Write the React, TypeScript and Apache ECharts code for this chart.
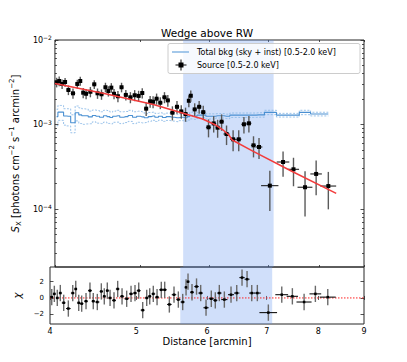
import React, { useEffect, useRef } from 'react';
import * as echarts from 'echarts';

// ---------- data ----------
const srcDist = [
  4.018, 4.045, 4.076, 4.108, 4.144, 4.194, 4.242, 4.275, 4.308, 4.341,
  4.390, 4.435, 4.473, 4.520, 4.567, 4.602, 4.638, 4.671, 4.719, 4.764,
  4.818, 4.876, 4.931, 4.982, 5.030, 5.082, 5.135, 5.175, 5.223, 5.274,
  5.332, 5.379, 5.444, 5.510, 5.572, 5.635, 5.684, 5.713, 5.772, 5.840,
  5.903, 5.985, 6.067, 6.130, 6.194, 6.275, 6.384, 6.479, 6.568, 6.654,
  6.735, 6.833, 7.030, 7.278, 7.480, 7.710, 7.938, 8.196,
];
const srcSx = [
  3.16e-3, 3.27e-3, 3.02e-3, 3.18e-3, 2.56e-3, 2.34e-3, 3.02e-3, 3.27e-3, 2.38e-3, 2.31e-3,
  2.44e-3, 2.99e-3, 2.34e-3, 2.28e-3, 2.76e-3, 2.49e-3, 2.73e-3, 2.31e-3, 2.16e-3, 2.76e-3,
  2.24e-3, 2.10e-3, 2.22e-3, 2.18e-3, 2.36e-3, 1.54e-3, 1.88e-3, 1.86e-3, 2.02e-3, 1.81e-3,
  2.10e-3, 1.93e-3, 1.38e-3, 1.62e-3, 1.43e-3, 1.33e-3, 1.91e-3, 2.19e-3, 1.51e-3, 1.62e-3,
  1.40e-3, 9.27e-4, 1.03e-3, 9.17e-4, 1.08e-3, 7.72e-4, 6.68e-4, 6.68e-4, 1.006e-3, 1.033e-3,
  5.67e-4, 5.42e-4, 1.89e-4, 3.60e-4, 2.95e-4, 1.81e-4, 2.60e-4, 1.87e-4,
];
const srcRelErr = [
  0.13, 0.13, 0.13, 0.12, 0.13, 0.14, 0.12, 0.12, 0.14, 0.14,
  0.14, 0.12, 0.14, 0.14, 0.13, 0.14, 0.13, 0.14, 0.15, 0.13,
  0.14, 0.15, 0.15, 0.15, 0.14, 0.18, 0.16, 0.16, 0.15, 0.16,
  0.15, 0.16, 0.19, 0.17, 0.18, 0.19, 0.16, 0.15, 0.18, 0.17,
  0.19, 0.24, 0.22, 0.24, 0.22, 0.26, 0.28, 0.28, 0.22, 0.22,
  0.28, 0.28, 0.50, 0.33, 0.37, 0.55, 0.44, 0.47,
];
const srcXErr = [
  0.013, 0.015, 0.016, 0.016, 0.020, 0.025, 0.020, 0.016, 0.016, 0.020,
  0.022, 0.022, 0.020, 0.024, 0.020, 0.018, 0.018, 0.020, 0.024, 0.022,
  0.026, 0.028, 0.026, 0.025, 0.025, 0.026, 0.025, 0.022, 0.025, 0.027,
  0.030, 0.030, 0.032, 0.032, 0.030, 0.030, 0.020, 0.020, 0.030, 0.034,
  0.035, 0.040, 0.040, 0.032, 0.035, 0.050, 0.050, 0.045, 0.045, 0.043,
  0.045, 0.060, 0.160, 0.120, 0.110, 0.150, 0.120, 0.170,
];
const chiVals = [
  0.1, 0.5, 0.0, 0.6, -0.6, -1.3, 0.6, 1.1, -0.6, -0.7,
  -0.4, 0.9, -0.4, -0.5, 0.8, 0.2, 0.9, 0.0, -0.3, 1.1,
  0.2, -0.1, 0.5, 0.6, 0.9, -1.5, 0.0, 0.2, 0.5, 0.1,
  1.0, 1.0, -0.8, 0.4, -0.2, -0.5, 1.3, 2.0, 0.7, 1.4,
  0.6, -1.2, -0.1, -0.3, 0.6, -0.2, 0.4, 0.6, 2.5, 2.3,
  0.6, 0.6, -1.8, 0.4, 0.2, -0.5, 0.5, 0.1,
];
const bkgSx = [
  1.24e-3, 1.40e-3, 1.40e-3, 1.26e-3, 1.25e-3, 1.05e-3, 1.38e-3, 1.30e-3, 1.27e-3, 1.27e-3,
  1.23e-3, 1.28e-3, 1.25e-3, 1.22e-3, 1.27e-3, 1.24e-3, 1.21e-3, 1.25e-3, 1.27e-3, 1.22e-3,
  1.24e-3, 1.28e-3, 1.22e-3, 1.25e-3, 1.23e-3, 1.20e-3, 1.24e-3, 1.26e-3, 1.22e-3, 1.25e-3,
  1.21e-3, 1.24e-3, 1.22e-3, 1.20e-3, 1.22e-3, 1.20e-3, 1.24e-3, 1.28e-3, 1.25e-3, 1.29e-3,
  1.29e-3, 1.25e-3, 1.25e-3, 1.27e-3, 1.27e-3, 1.25e-3, 1.29e-3, 1.29e-3, 1.29e-3, 1.29e-3,
  1.29e-3, 1.30e-3, 1.39e-3, 1.29e-3, 1.29e-3, 1.39e-3, 1.33e-3, 1.33e-3,
];
const bkgRelErr = [
  0.22, 0.20, 0.20, 0.22, 0.23, 0.24, 0.20, 0.21, 0.21, 0.20,
  0.17, 0.16, 0.17, 0.16, 0.16, 0.17, 0.16, 0.15, 0.16, 0.16,
  0.15, 0.15, 0.16, 0.15, 0.15, 0.12, 0.12, 0.11, 0.11, 0.10,
  0.10, 0.10, 0.10, 0.10, 0.09, 0.09, 0.09, 0.09, 0.08, 0.08,
  0.07, 0.07, 0.07, 0.06, 0.06, 0.06, 0.06, 0.06, 0.06, 0.06,
  0.06, 0.06, 0.06, 0.05, 0.05, 0.06, 0.05, 0.05,
];
const modelDist = [4.0, 4.552, 5.179, 5.600, 5.893, 6.099, 6.232, 6.313, 6.368, 6.706, 7.436, 8.367];
const modelSx = [3.06e-3, 2.33e-3, 1.725e-3, 1.357e-3, 1.162e-3, 9.86e-4, 8.45e-4, 7.51e-4, 6.56e-4, 4.90e-4, 2.82e-4, 1.53e-4];
const bandRange = [5.6, 7.1];
const xTickValues = [4, 5, 6, 7, 8, 9];
const yMajorTicks = [1e-4, 1e-3, 1e-2];
const chiTicks = [-2, 0, 2];
const xRange = [4, 9];
const yRange = [2.06e-5, 1e-2];
const chiRange = [-3.2, 3.8];

const titleText = 'Wedge above RW';
const xName = 'Distance [arcmin]';
const legendBkg = 'Total bkg (sky + inst) [0.5-2.0 keV]';
const legendSrc = 'Source [0.5-2.0 keV]';

// ---------- helpers ----------
const lg = (v: number) => Math.log10(v);
const FONT = 'DejaVu Sans';
const AX = '#262626';
const BKG = '#4a90d2';
const BKG_D = '#8dbbe8';

const yMinorTicks: number[] = [];
for (let n = -5; n <= -3; n++) {
  for (let k = 2; k <= 9; k++) {
    const v = k * Math.pow(10, n);
    if (v > yRange[0] && v < yRange[1]) yMinorTicks.push(lg(v));
  }
}

function tickAxis(gridIndex: number, position: string, min: number, max: number, ticks: number[], len: number, extra: any = {}) {
  return {
    type: 'value',
    gridIndex,
    position,
    min,
    max,
    axisLine: { show: false },
    splitLine: { show: false },
    axisLabel: { show: false },
    axisTick: {
      show: true,
      inside: true,
      length: len,
      customValues: ticks,
      lineStyle: { color: AX, width: 0.8 },
    },
    ...extra,
  };
}

function errRender(markerSize: number, vColor: string, hColor: string) {
  return (params: any, api: any) => {
    const c = api.coord([api.value(0), api.value(1)]);
    const xl = api.coord([api.value(2), api.value(1)]);
    const xh = api.coord([api.value(3), api.value(1)]);
    const yl = api.coord([api.value(0), api.value(4)]);
    const yh = api.coord([api.value(0), api.value(5)]);
    const h = markerSize / 2;
    return {
      type: 'group',
      children: [
        { type: 'line', shape: { x1: c[0], y1: yl[1], x2: c[0], y2: yh[1] }, style: { stroke: vColor, lineWidth: 1.4 } },
        { type: 'line', shape: { x1: xl[0], y1: c[1], x2: xh[0], y2: c[1] }, style: { stroke: hColor, lineWidth: 1.1 } },
        { type: 'rect', shape: { x: c[0] - h, y: c[1] - h, width: markerSize, height: markerSize }, style: { fill: '#000' } },
      ],
    };
  };
}

export default function App() {
  const ref = useRef<HTMLDivElement>(null);
  useEffect(() => {
    if (!ref.current) return;
    const chart = echarts.init(ref.current, null, { renderer: 'svg' });

    const xMin = lg(xRange[0]);
    const xMax = lg(xRange[1]);
    const yMin = lg(yRange[0]);
    const yMax = lg(yRange[1]);
    const xTicks = xTickValues.map(lg);

    const srcData = srcDist.map((d, i) => {
      const v = srcSx[i];
      const e = v * srcRelErr[i];
      return [lg(d), lg(v), lg(d - srcXErr[i]), lg(d + srcXErr[i]), lg(v - e), lg(v + e)];
    });
    const chiData = srcDist.map((d, i) => [lg(d), chiVals[i], lg(d - srcXErr[i]), lg(d + srcXErr[i]), chiVals[i] - 1, chiVals[i] + 1]);
    const bkgMain = srcDist.map((d, i) => [lg(d), lg(bkgSx[i])]);
    const bkgUp = srcDist.map((d, i) => [lg(d), lg(bkgSx[i] * (1 + bkgRelErr[i]))]);
    const bkgLo = srcDist.map((d, i) => [lg(d), lg(bkgSx[i] * (1 - bkgRelErr[i]))]);
    const modelData = modelDist.map((d, i) => [lg(d), lg(modelSx[i])]);

    const band = {
      silent: true,
      itemStyle: { color: 'rgba(100,149,237,0.3)' },
      data: [[{ xAxis: lg(bandRange[0]) }, { xAxis: lg(bandRange[1]) }]],
    };

    const option: any = {
      animation: false,
      backgroundColor: '#ffffff',
      textStyle: { fontFamily: FONT },
      grid: [
        { left: 50, top: 40, width: 314, height: 227, show: true, borderColor: AX, borderWidth: 1, backgroundColor: 'transparent' },
        { left: 50, top: 267, width: 314, height: 57, show: true, borderColor: AX, borderWidth: 1, backgroundColor: 'transparent' },
      ],
      xAxis: [
        tickAxis(0, 'bottom', xMin, xMax, xTicks, 2),
        tickAxis(0, 'top', xMin, xMax, xTicks, 2),
        tickAxis(1, 'bottom', xMin, xMax, xTicks, 2, {
          name: xName,
          nameLocation: 'middle',
          nameGap: 12,
          nameTextStyle: { fontSize: 10, fontFamily: FONT, color: '#000' },
          axisLabel: {
            show: true,
            customValues: xTicks,
            margin: 3,
            fontSize: 8,
            fontFamily: FONT,
            color: '#000',
            formatter: (v: number) => String(Math.round(Math.pow(10, v))),
          },
        }),
        tickAxis(1, 'top', xMin, xMax, xTicks, 2),
      ],
      yAxis: [
        tickAxis(0, 'left', yMin, yMax, yMajorTicks.map(lg), 3.5, {
          name: '{i|S}{sub|X} [photons cm{sup|−2} s{sup|−1} arcmin{sup|−2}]',
          nameLocation: 'middle',
          nameGap: 26,
          nameTextStyle: {
            fontSize: 10,
            fontFamily: FONT,
            color: '#000',
            rich: {
              i: { fontSize: 10, fontStyle: 'italic', fontFamily: FONT, color: '#000', verticalAlign: 'middle', lineHeight: 14 },
              sub: { fontSize: 7, fontFamily: FONT, color: '#000', verticalAlign: 'bottom', lineHeight: 14 },
              sup: { fontSize: 7, fontFamily: FONT, color: '#000', verticalAlign: 'top', lineHeight: 14 },
            },
          },
          axisLabel: {
            show: true,
            customValues: yMajorTicks.map(lg),
            margin: 3,
            fontSize: 8,
            fontFamily: FONT,
            color: '#000',
            formatter: (v: number) => '10{sup|−' + Math.abs(Math.round(v)) + '}',
            rich: {
              sup: { fontSize: 6, fontFamily: FONT, color: '#000', verticalAlign: 'top', padding: [0, 0, 5, 0] },
            },
          },
        }),
        tickAxis(0, 'left', yMin, yMax, yMinorTicks, 2),
        tickAxis(0, 'right', yMin, yMax, yMajorTicks.map(lg), 3.5),
        tickAxis(0, 'right', yMin, yMax, yMinorTicks, 2),
        tickAxis(1, 'left', chiRange[0], chiRange[1], chiTicks, 3.5, {
          name: 'χ',
          nameLocation: 'middle',
          nameGap: 14,
          nameRotate: 90,
          nameTextStyle: { fontSize: 10, fontStyle: 'italic', fontFamily: FONT, color: '#000' },
          axisLabel: {
            show: true,
            customValues: chiTicks,
            margin: 6,
            fontSize: 7,
            fontFamily: FONT,
            color: '#000',
            formatter: (v: number) => (v < 0 ? '−' + Math.abs(v) : String(v)),
          },
        }),
        tickAxis(1, 'right', chiRange[0], chiRange[1], chiTicks, 3.5),
      ],
      series: [
        {
          type: 'line', xAxisIndex: 0, yAxisIndex: 0, data: [], markArea: band, z: 0,
        },
        {
          type: 'line', xAxisIndex: 2, yAxisIndex: 4, data: [], markArea: band, z: 0,
        },
        {
          name: 'bkg_up', type: 'line', xAxisIndex: 0, yAxisIndex: 0, data: bkgUp, step: 'middle', symbol: 'none',
          lineStyle: { color: BKG_D, width: 0.9, type: [2, 1.5] }, z: 2,
        },
        {
          name: 'bkg_lo', type: 'line', xAxisIndex: 0, yAxisIndex: 0, data: bkgLo, step: 'middle', symbol: 'none',
          lineStyle: { color: BKG_D, width: 0.9, type: [2, 1.5] }, z: 2,
        },
        {
          name: legendBkg, type: 'line', xAxisIndex: 0, yAxisIndex: 0, data: bkgMain, step: 'middle', symbol: 'none',
          lineStyle: { color: BKG, width: 1.1 }, z: 3,
        },
        {
          name: 'model', type: 'line', xAxisIndex: 0, yAxisIndex: 0, data: modelData, symbol: 'none',
          lineStyle: { color: '#f23c3c', width: 1.5 }, z: 5,
        },
        {
          name: legendSrc, type: 'custom', xAxisIndex: 0, yAxisIndex: 0, data: srcData,
          encode: { x: 0, y: 1 }, renderItem: errRender(4, '#5a5a5a', '#222'), z: 4,
        },
        {
          name: 'zero', type: 'line', xAxisIndex: 2, yAxisIndex: 4, data: [[xMin, 0], [xMax, 0]], symbol: 'none',
          lineStyle: { color: '#ff2020', width: 1, type: [1.5, 1.5] }, z: 2,
        },
        {
          name: 'chi', type: 'custom', xAxisIndex: 2, yAxisIndex: 4, data: chiData,
          encode: { x: 0, y: 1 }, renderItem: errRender(2.5, '#6a6a6a', '#111'), z: 4,
        },
      ],
      graphic: [
        {
          type: 'text', x: 207, y: 33, z: 10,
          style: { text: titleText, fontSize: 10.5, fontFamily: FONT, fill: '#000', align: 'center', verticalAlign: 'middle' },
        },
        {
          type: 'rect', z: 10, shape: { x: 168, y: 43.5, width: 192, height: 30, r: 2 },
          style: { fill: 'rgba(255,255,255,0.8)', stroke: '#cccccc', lineWidth: 1 },
        },
        {
          type: 'line', z: 11, shape: { x1: 172, y1: 52, x2: 189, y2: 52 },
          style: { stroke: '#86b6e3', lineWidth: 1.5 },
        },
        {
          type: 'text', z: 11, x: 197, y: 52,
          style: { text: legendBkg, fontSize: 8, fontFamily: FONT, fill: '#000', align: 'left', verticalAlign: 'middle' },
        },
        {
          type: 'line', z: 11, shape: { x1: 181, y1: 59.5, x2: 181, y2: 70.5 },
          style: { stroke: '#333', lineWidth: 1.2 },
        },
        {
          type: 'line', z: 11, shape: { x1: 175.5, y1: 65, x2: 186.5, y2: 65 },
          style: { stroke: '#333', lineWidth: 1.2 },
        },
        {
          type: 'rect', z: 12, shape: { x: 178.5, y: 62.5, width: 5, height: 5 },
          style: { fill: '#000' },
        },
        {
          type: 'text', z: 11, x: 197, y: 65,
          style: { text: legendSrc, fontSize: 8, fontFamily: FONT, fill: '#000', align: 'left', verticalAlign: 'middle' },
        },
      ],
    };

    chart.setOption(option);
    return () => chart.dispose();
  }, []);

  return (
    <div
      ref={ref}
      style={{ position: 'absolute', left: 0, top: 0, width: 407, height: 362, background: '#fff' }}
    />
  );
}
